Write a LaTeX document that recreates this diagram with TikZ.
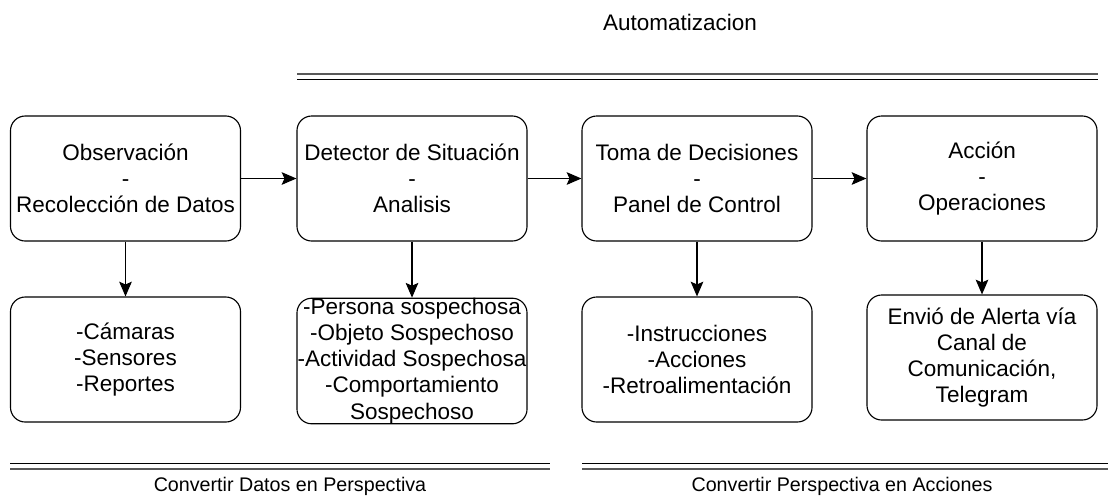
\documentclass[tikz,border=0pt]{standalone}
\usepackage{fontspec}
\setmainfont{Liberation Sans}
\usetikzlibrary{arrows.meta}

\begin{document}
\begin{tikzpicture}[x=0.025cm,y=-0.025cm,
    caja/.style={draw, line width=0.8pt, rounded corners=10.5pt, minimum width=5.75cm, minimum height=3.125cm, inner sep=0pt, align=center, font=\fontsize{16}{18.6}\selectfont},
    flecha/.style={-{Stealth[length=10.5pt,width=9pt,inset=2pt]}, line width=0.8pt},
    etiqueta/.style={font=\fontsize{14}{17}\selectfont}]
        \useasboundingbox (0,0) rectangle (1109,496);

        % Top row
        \node[caja] (obs) at (125.5,178.5) {Observación\\-\\Recolección de Datos};
        \node[caja] (det) at (412,178.5) {Detector de Situación\\-\\Analisis};
        \node[caja] (dec) at (697,178.5) {Toma de Decisiones\\-\\Panel de Control};
        \node[caja] (acc) at (982,178.5) {Acción\\-\\Operaciones};

        % Bottom row
        \node[caja] (fuentes) at (125.5,359.5) {-Cámaras\\-Sensores\\-Reportes};
        \node[caja] (sospecha) at (412,361) {-Persona sospechosa\\-Objeto Sospechoso\\-Actividad Sospechosa\\-Comportamiento\\Sospechoso};
        \node[caja] (instr) at (697,359.5) {-Instrucciones\\-Acciones\\-Retroalimentación};
        \node[caja] (alerta) at (982,357.5) {Envió de Alerta vía\\Canal de\\Comunicación,\\Telegram};

        % Arrows
        \draw[flecha] (obs) -- (det);
        \draw[flecha] (det) -- (dec);
        \draw[flecha] (dec) -- (acc);
        \draw[flecha] (obs) -- (fuentes);
        \draw[flecha] (det) -- (sospecha);
        \draw[flecha] (dec) -- (instr);
        \draw[flecha] (acc) -- (alerta);

        % Automatizacion
        \node[font=\fontsize{16}{19}\selectfont] (auto) at (680,22) {Automatizacion};
        \draw[gray!70!black, line width=1.1pt] (297,74) -- (1098,74);
        \draw[line width=1pt] (297,79.3) -- (1098,79.3);

        % Convertir
        \draw[line width=1pt] (10,463.3) -- (550,463.3);
        \draw[gray!70!black, line width=1.1pt] (10,469) -- (550,469);
        \node[etiqueta] (datos) at (290,486) {Convertir Datos en Perspectiva};

        \draw[line width=1pt] (582,463.3) -- (1108,463.3);
        \draw[gray!70!black, line width=1.1pt] (582,469) -- (1108,469);
        \node[etiqueta] (acciones) at (842,486) {Convertir Perspectiva en Acciones};
    \end{tikzpicture}
\end{document}
